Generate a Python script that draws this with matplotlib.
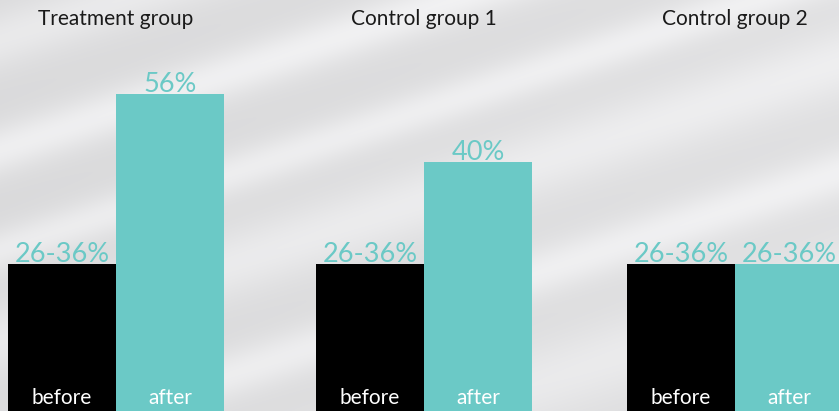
import numpy as np
import matplotlib.pyplot as plt

groups = ['Treatment group', 'Control group 1', 'Control group 2']
series = ['before', 'after']
# bar heights as drawn (percent scale)
before_vals = [26, 26, 26]
after_vals = [56, 44, 26]
before_labels = ['26-36%', '26-36%', '26-36%']
after_labels = ['56%', '40%', '26-36%']

teal = '#6bc9c6'
W, H = 839, 411

fig = plt.figure(figsize=(W / 100, H / 100), dpi=100)
ax = fig.add_axes([0, 0, 1, 1])

# background: gray with pale diagonal streaks
xx, yy = np.meshgrid(np.arange(W), np.arange(H))
d = yy + 0.33 * xx
bg = 0.855 + 0.02 * (xx / W)
for c, w, a in [(40, 30, 0.06), (150, 25, 0.08), (250, 22, 0.07), (340, 35, 0.06),
                (450, 25, 0.07), (560, 40, 0.05)]:
    bg += a * np.exp(-((d - c) / w) ** 2)
bg = np.clip(bg, 0, 1)
ax.imshow(np.dstack([bg, bg, (bg * 1.006).clip(0, 1)]), extent=[0, W / 108, 0, H / 5.66],
          aspect='auto', zorder=0)

centers = np.array([1.074, 3.926, 6.806])
bw = 1.0
ax.bar(centers - bw / 2, before_vals, width=bw, color='black', zorder=2)
ax.bar(centers + bw / 2, after_vals, width=bw, color=teal, zorder=2)

vfont = dict(family='Lato', fontsize=19.5, color=teal, ha='center', va='bottom', zorder=3)
tfont = dict(family='Lato', fontsize=15, ha='center', zorder=3)
for i in range(3):
    ax.text(centers[i] - bw / 2, before_vals[i] - 0.6, before_labels[i], **vfont)
    ax.text(centers[i] + bw / 2, after_vals[i] - 0.6, after_labels[i], **vfont)
    ax.text(centers[i], 69.2, groups[i], color='#1a1a1a', va='center', **tfont)
    ax.text(centers[i] - bw / 2, 0.5, series[0], color='white', va='bottom', **tfont)
    ax.text(centers[i] + bw / 2, 0.5, series[1], color='white', va='bottom', **tfont)

ax.set_xlim(0, W / 108)
ax.set_ylim(0, H / 5.66)
ax.axis('off')
fig.savefig('out.png', dpi=100)
